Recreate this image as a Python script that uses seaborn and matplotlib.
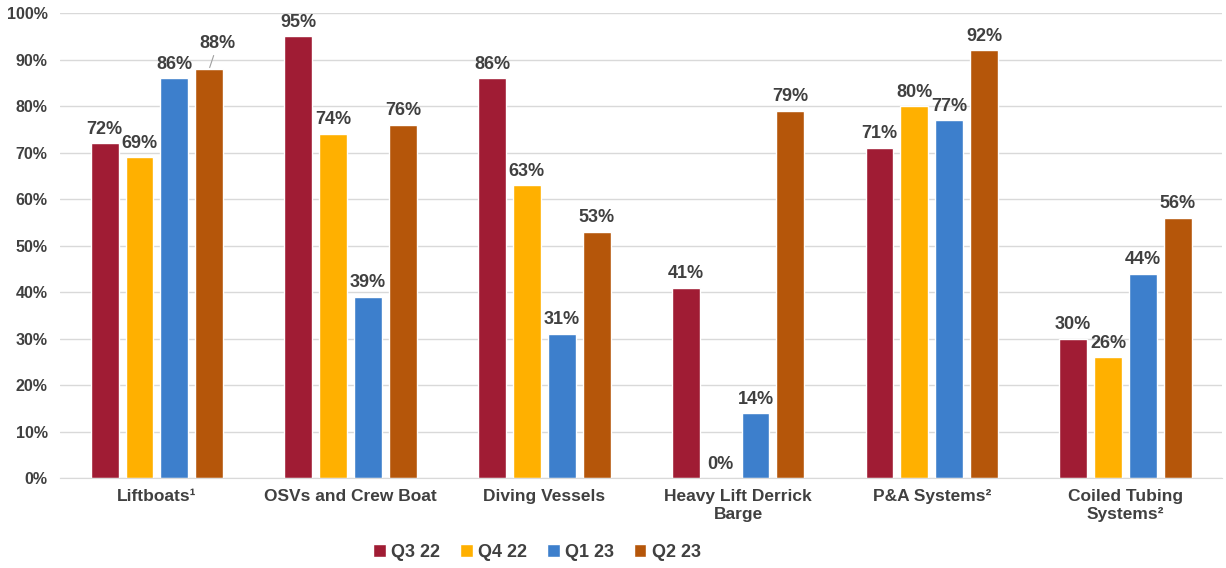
import pandas as pd
import seaborn as sns
import matplotlib.pyplot as plt

categories = ['Liftboats¹', 'OSVs and Crew Boat', 'Diving Vessels',
              'Heavy Lift Derrick\nBarge', 'P&A Systems²', 'Coiled Tubing\nSystems²']
quarters = ['Q3 22', 'Q4 22', 'Q1 23', 'Q2 23']
q3_22 = [72, 95, 86, 41, 71, 30]
q4_22 = [69, 74, 63, 0, 80, 26]
q1_23 = [86, 39, 31, 14, 77, 44]
q2_23 = [88, 76, 53, 79, 92, 56]
colors = ['#A01C34', '#FFB000', '#3D7FCC', '#B5560A']

rows = []
for q, vals in zip(quarters, [q3_22, q4_22, q1_23, q2_23]):
    for c, v in zip(categories, vals):
        rows.append({'category': c, 'quarter': q, 'value': v})
df = pd.DataFrame(rows)

sns.set_style('white')
plt.rcParams['font.family'] = ['Liberation Sans', 'DejaVu Sans']
text_color = '#404040'

fig, ax = plt.subplots(figsize=(12.26, 5.68), dpi=100)
sns.barplot(data=df, x='category', y='value', hue='quarter', order=categories,
            hue_order=quarters, palette=colors, width=0.72, gap=0.2,
            saturation=1, ax=ax, legend=True)

# value labels
for i, cont in enumerate(ax.containers):
    labels = [f'{v:.0f}%' for v in cont.datavalues]
    if i == 3:
        # the first Q2 23 label sits a bit higher with a leader line
        labels[0] = ''
    ax.bar_label(cont, labels=labels, padding=4, fontsize=13, fontweight='bold', color=text_color)

bar = ax.containers[3][0]
bx = bar.get_x() + bar.get_width() / 2
ax.annotate(f'{q2_23[0]}%', xy=(bx, q2_23[0]), xytext=(6, 12), textcoords='offset points',
            ha='center', va='bottom', fontsize=13, fontweight='bold', color=text_color,
            arrowprops=dict(arrowstyle='-', color='#A0A0A0', lw=0.8, shrinkA=0, shrinkB=1))

ax.set_ylim(0, 100)
ax.set_yticks(range(0, 101, 10))
ax.set_yticklabels([f'{t}%' for t in range(0, 101, 10)])
ax.set_xlim(-0.5, len(categories) - 0.5)
ax.yaxis.grid(True, color='#D9D9D9', linewidth=1)
ax.set_axisbelow(True)
for s in ['top', 'right', 'left']:
    ax.spines[s].set_visible(False)
ax.spines['bottom'].set_color('#D9D9D9')
ax.tick_params(axis='both', length=0, colors=text_color)
ax.tick_params(axis='y', labelsize=11.5, pad=9)
ax.tick_params(axis='x', labelsize=12.5, pad=8)
for lab in ax.get_xticklabels() + ax.get_yticklabels():
    lab.set_fontweight('bold')
ax.set_xlabel('')
ax.set_ylabel('')

ax.legend(loc='center', bbox_to_anchor=(0.438, 0.028), bbox_transform=fig.transFigure,
          ncol=4, frameon=False, handlelength=0.7, handleheight=0.7, handletextpad=0.3,
          columnspacing=1.1, prop={'size': 13, 'weight': 'bold'}, labelcolor=text_color)

plt.subplots_adjust(left=0.049, right=0.997, top=0.977, bottom=0.158)
plt.savefig('out.png')
